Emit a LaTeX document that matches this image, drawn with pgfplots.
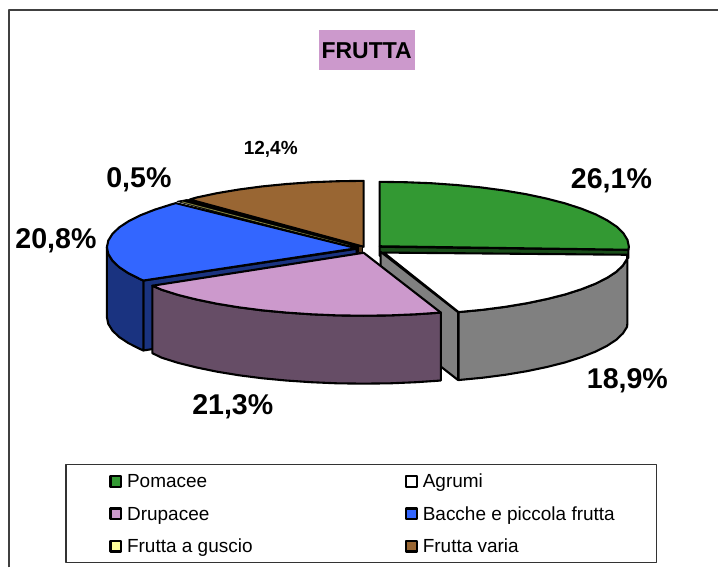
\documentclass[border=0pt]{standalone}
\usepackage{fontspec}
\setmainfont{Liberation Sans}
\usepackage{pgfplots}
\pgfplotsset{compat=1.18}
\definecolor{cgreen}{HTML}{339933}
\definecolor{dgreen}{HTML}{1A4D1A}
\definecolor{cgray}{HTML}{808080}
\definecolor{cpurple}{HTML}{CC99CC}
\definecolor{dpurple}{HTML}{664D66}
\definecolor{cblue}{HTML}{3366FF}
\definecolor{dblue}{HTML}{1A3380}
\definecolor{cyellow}{HTML}{FFFF99}
\definecolor{dyellow}{HTML}{808040}
\definecolor{cbrown}{HTML}{996633}
\definecolor{dbrown}{HTML}{4D331A}
\begin{document}
\begin{tikzpicture}
\begin{axis}[
  width=719pt,height=568pt,scale only axis,
  xmin=0,xmax=719,ymin=0,ymax=568,y dir=reverse,
  axis lines=none,clip=false,
  every axis plot/.append style={line join=round,line width=2.1pt,draw=black},
]
% invisible diagonal keeps the full picture area
\addplot[draw=none] coordinates {(0,0)(719,568)};
% outer frame
\addplot[line width=1.4pt,draw=black!75] coordinates {(9,568)(9,10)(719,10)};
% title box
\addplot[fill=cpurple,draw=none] coordinates {(319,30)(415,30)(415,70)(319,70)} --cycle;
% brown slice (12,4%)
\addplot[fill=cbrown] coordinates {(190,199.7)(196.7,197.7)(217.05,193.4)(239,189.7)(262.3,186.6)(286.75,184.2)(312,182.4)(337.9,181.4)(364,181)(364,247)} --cycle;
% yellow slice (0,5%) band
\addplot[fill=black,line width=0.6pt] coordinates {(177,201.5)(188,199.5)(362,247)(356,251)} --cycle;
\addplot[draw=dyellow,line width=0.9pt] coordinates {(182,202)(350,246)};
\addplot[draw=dyellow,line width=0.9pt] coordinates {(180,204.5)(350,249)};
\addplot[fill=dyellow,line width=0.6pt] coordinates {(355,248)(358,248)(358,253)(355,253)} --cycle;
\addplot[fill=dbrown,line width=0.6pt] coordinates {(359,247)(363,247)(363,253)(359,253)} --cycle;
% green slice (26,1%)
\addplot[fill=dgreen] coordinates {(380,247)(629,250)(629,258)(380,256)} --cycle;
\addplot[fill=cgreen] coordinates {(380,182)(406.1,182.4)(431.9,183.4)(457.1,185.2)(481.5,187.6)(504.8,190.7)(526.7,194.4)(546.9,198.7)(565.4,203.5)(581.8,208.8)(596.1,214.5)(607.9,220.6)(617.3,226.9)(624,233.5)(628.1,240.2)(629.5,247)(629,250)(380,246.5)} --cycle;
% blue slice (20,8%)
\addplot[fill=dblue] coordinates {(143.5,280.8)(143.5,350.8)(357,318)(357,249)} --cycle;
\addplot[fill=dblue] coordinates {(143.5,280.8)(140.5,279.5)(128.6,273.5)(119.2,267.3)(112.5,260.8)(108.4,254.2)(107,247.5)(107,317.5)(108.4,324.2)(112.5,330.8)(119.2,337.3)(128.6,343.5)(140.5,349.5)(143.5,350.8)} --cycle;
\addplot[fill=cblue] coordinates {(357,248.5)(143.5,280.8)(140.5,279.5)(128.6,273.5)(119.2,267.3)(112.5,260.8)(108.4,254.2)(107,247.5)(108.4,240.8)(112.5,234.2)(119.2,227.7)(128.6,221.5)(140.5,215.5)(154.75,209.9)(171.2,204.7)(176,203.3)} --cycle;
% white slice (18,9%)
\addplot[fill=cgray] coordinates {(381,252)(458.5,312.4)(458.5,380.4)(381,320)} --cycle;
\addplot[fill=cgray] coordinates {(628,255)(627.7,259.1)(623.6,265.6)(617,272)(607.7,278.1)(596,284)(582,289.5)(565.8,294.7)(547.6,299.3)(527.6,303.5)(506,307.1)(483,310.1)(459,312.4)(459,380.4)(483,378.1)(506,375.1)(527.6,371.5)(547.6,367.3)(565.8,362.7)(582,357.5)(596,352)(607.7,346.1)(617,340)(623.6,333.6)(627.7,327.1)(628,323)} --cycle;
\addplot[fill=white] coordinates {(384,252.8)(628,255)(627.7,259.1)(623.6,265.6)(617,272)(607.7,278.1)(596,284)(582,289.5)(565.8,294.7)(547.6,299.3)(527.6,303.5)(506,307.1)(483,310.1)(459,312.4)} --cycle;
% purple slice (21,3%)
\addplot[fill=dpurple] coordinates {(441.25,312.9)(416,314.6)(390.1,315.7)(364,316)(337.9,315.7)(312,314.6)(286.75,312.9)(262.3,310.6)(239,307.6)(217.05,304)(196.7,299.8)(178.2,295.2)(161.75,290)(152.5,286)(152.5,353.5)(161.75,358)(178.2,363.2)(196.7,367.8)(217.05,372)(239,375.6)(262.3,378.6)(286.75,380.9)(312,382.6)(337.9,383.7)(364,384)(390.1,383.7)(416,382.6)(441.25,380.9)} --cycle;
\addplot[fill=cpurple] coordinates {(364,253)(441.25,312.9)(416,314.6)(390.1,315.7)(364,316)(337.9,315.7)(312,314.6)(286.75,312.9)(262.3,310.6)(239,307.6)(217.05,304)(196.7,299.8)(178.2,295.2)(161.75,290)(152.5,286)} --cycle;
% legend frame
\addplot[fill=white,line width=1.2pt,draw=black!80] coordinates {(66,465)(657,465)(657,563)(66,563)} --cycle;
% legend swatches
\addplot[only marks,mark=square*,mark size=5.4pt,mark options={fill=cgreen,draw=black,line width=2.2pt}] coordinates {(116,481.7)};
\addplot[only marks,mark=square*,mark size=5.4pt,mark options={fill=white,draw=black,line width=2.2pt}] coordinates {(412,481.7)};
\addplot[only marks,mark=square*,mark size=5.4pt,mark options={fill=cpurple,draw=black,line width=2.2pt}] coordinates {(116,514.3)};
\addplot[only marks,mark=square*,mark size=5.4pt,mark options={fill=cblue,draw=black,line width=2.2pt}] coordinates {(412,514.3)};
\addplot[only marks,mark=square*,mark size=5.4pt,mark options={fill=cyellow,draw=black,line width=2.2pt}] coordinates {(116,546.7)};
\addplot[only marks,mark=square*,mark size=5.4pt,mark options={fill=cbrown,draw=black,line width=2.2pt}] coordinates {(412,546.7)};
% legend labels
\tikzset{lg/.style={anchor=base west,inner sep=0pt,font=\fontsize{19}{19}\selectfont}}
\node[lg] at (axis cs:127,488) {Pomacee};
\node[lg] at (axis cs:423,488) {Agrumi};
\node[lg] at (axis cs:127,520.5) {Drupacee};
\node[lg] at (axis cs:423,520.5) {Bacche e piccola frutta};
\node[lg] at (axis cs:127,553) {Frutta a guscio};
\node[lg] at (axis cs:423,553) {Frutta varia};
% data labels
\tikzset{big/.style={inner sep=0pt,font=\fontsize{28.6}{28.6}\selectfont\bfseries}}
\node[big] at (axis cs:612,180.5) {26,1\%};
\node[big] at (axis cs:628,381.5) {18,9\%};
\node[big] at (axis cs:233,407.5) {21,3\%};
\node[big] at (axis cs:56,240.5) {20,8\%};
\node[big] at (axis cs:139,179.5) {0,5\%};
\node[inner sep=0pt,font=\fontsize{19}{19}\selectfont\bfseries] at (axis cs:271,149) {12,4\%};
\node[inner sep=0pt,font=\fontsize{23}{23}\selectfont\bfseries] at (axis cs:367,51) {FRUTTA};
\end{axis}
\end{tikzpicture}
\end{document}
